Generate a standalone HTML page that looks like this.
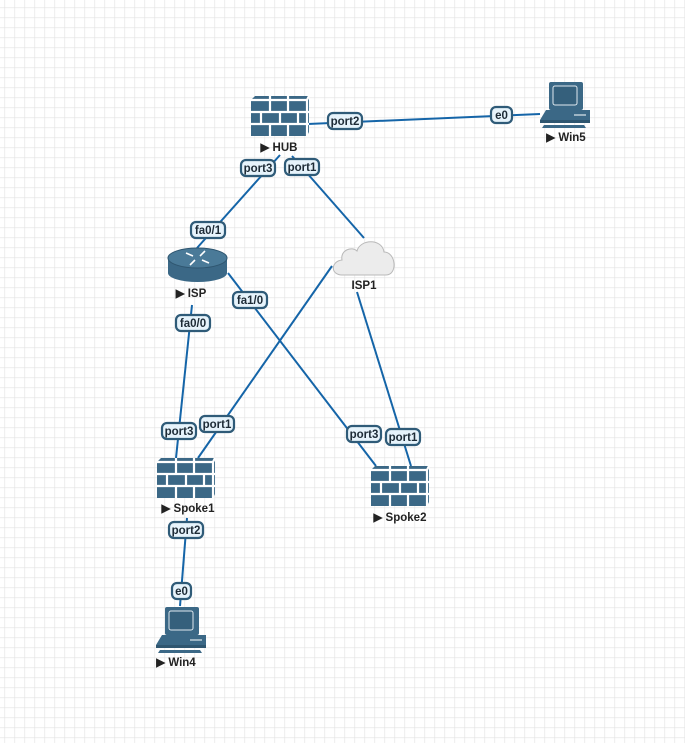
<!DOCTYPE html>
<html><head><meta charset="utf-8"><style>
html,body{margin:0;padding:0;background:#fff}
svg{display:block}
text{font-family:"Liberation Sans",sans-serif;font-weight:bold;fill:#222}
.lb rect{fill:#e6f3fb;stroke:#2f5b78;stroke-width:2.2}
.lb text{font-size:11.5px;text-anchor:middle;font-weight:bold;fill:#1d2b36}
.ln{stroke:#1565a8;stroke-width:2;fill:none}
.nm{font-size:11.5px;text-anchor:middle}
</style></head><body>
<svg width="685" height="743" viewBox="0 0 685 743" xmlns="http://www.w3.org/2000/svg">
<defs>
<pattern id="g" x="4.5" y="7.5" width="10" height="10" patternUnits="userSpaceOnUse">
<path d="M0 0H10M0 0V10" stroke="#e2e2e2" stroke-width="1.2" fill="none"/>
</pattern>
<g id="fw">
<polygon points="0,4 4,0 58,0 58,36 56,40 0,40" fill="#3b6886"/>
<path d="M0 4H56L58 0M0 16H58M0 28H58M56 4V40" stroke="#fff" stroke-width="2.2" fill="none"/>
<path d="M19 0V4M37 0V4M19 4V16M37 4V16M10 16V28M29 16V28M47 16V28M19 28V40M37 28V40" stroke="#fff" stroke-width="2.2"/>
</g>
<g id="pc">
<rect x="9" y="0" width="34" height="28" rx="2" fill="#3b6886"/>
<rect x="13" y="4" width="24" height="19" rx="2" fill="#35607c" stroke="#dfe9ef" stroke-width="1"/>
<polygon points="0,38 6,28 50,28 50,38" fill="#3b6886"/>
<rect x="0" y="38" width="50" height="3" fill="#2f5670"/>
<path d="M34 33H46" stroke="#dfe9ef" stroke-width="1.2"/>
<polygon points="4,43 44,43 46,46 2,46" fill="#3b6886"/>
</g>
</defs>
<rect width="685" height="743" fill="#fff"/>
<rect width="685" height="743" fill="url(#g)"/>

<line class="ln" x1="308" y1="124" x2="540" y2="114"/>
<line class="ln" x1="280" y1="155" x2="197" y2="248"/>
<line class="ln" x1="292" y1="156" x2="364" y2="238"/>
<line class="ln" x1="228" y1="273" x2="376" y2="466"/>
<line class="ln" x1="192" y1="305" x2="176" y2="458"/>
<line class="ln" x1="332" y1="266" x2="198" y2="458"/>
<line class="ln" x1="357" y1="292" x2="411" y2="466"/>
<line class="ln" x1="187" y1="518" x2="180" y2="606"/>

<use href="#fw" x="251" y="96"/>
<text class="nm" x="279" y="151">▶ HUB</text>
<use href="#pc" x="540" y="82"/>
<text class="nm" x="566" y="141">▶ Win5</text>
<g>
<rect x="168" y="258" width="59" height="15" fill="#3b6886"/>
<ellipse cx="197.5" cy="273" rx="29.5" ry="9" fill="#3b6886"/>
<ellipse cx="197.5" cy="258" rx="29.5" ry="10" fill="#4a7a98" stroke="#2f5670"/>
<path d="M186 253l7 3M209 263l-7-3M205 251l-5 5M190 265l5-5" stroke="#fff" stroke-width="1.6"/>
</g>
<text class="nm" x="191" y="297">▶ ISP</text>
<path d="M342 275 C330 275 331 261 342 260 C340 250 352 246 357 251 C360 239 382 238 384 252 C396 252 398 275 386 275 Z" fill="#ececec" stroke="#b9b9b9"/>
<text class="nm" x="364" y="289">ISP1</text>
<use href="#fw" x="157" y="458"/>
<text class="nm" x="188" y="512">▶ Spoke1</text>
<use href="#fw" x="371" y="466"/>
<text class="nm" x="400" y="521">▶ Spoke2</text>
<use href="#pc" x="156" y="607"/>
<text class="nm" x="176" y="666">▶ Win4</text>

<g class="lb">
<rect x="328" y="113" width="34" height="16" rx="5"/><text x="345" y="125">port2</text>
<rect x="491" y="107" width="21" height="16" rx="5"/><text x="501.5" y="119">e0</text>
<rect x="241" y="160" width="34" height="16" rx="5"/><text x="258" y="172">port3</text>
<rect x="285" y="159" width="34" height="16" rx="5"/><text x="302" y="171">port1</text>
<rect x="191" y="222" width="34" height="16" rx="5"/><text x="208" y="234">fa0/1</text>
<rect x="233" y="292" width="34" height="16" rx="5"/><text x="250" y="304">fa1/0</text>
<rect x="176" y="315" width="34" height="16" rx="5"/><text x="193" y="327">fa0/0</text>
<rect x="162" y="423" width="34" height="16" rx="5"/><text x="179" y="435">port3</text>
<rect x="200" y="416" width="34" height="16" rx="5"/><text x="217" y="428">port1</text>
<rect x="347" y="426" width="34" height="16" rx="5"/><text x="364" y="438">port3</text>
<rect x="386" y="429" width="34" height="16" rx="5"/><text x="403" y="441">port1</text>
<rect x="169" y="522" width="34" height="16" rx="5"/><text x="186" y="534">port2</text>
<rect x="172" y="583" width="19" height="16" rx="5"/><text x="181.5" y="595">e0</text>
</g>
</svg>
</body></html>
